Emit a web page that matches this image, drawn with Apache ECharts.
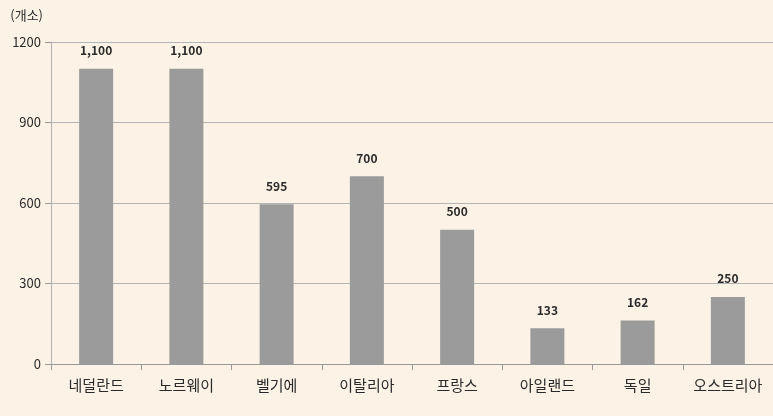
<!DOCTYPE html>
<html>
<head>
<meta charset="utf-8">
<script src="https://cdn.jsdelivr.net/npm/echarts@6/dist/echarts.min.js"></script>
<style>
  html, body { margin: 0; padding: 0; background: #fcf3e6; }
  #chart { width: 773px; height: 416px; }
</style>
</head>
<body>
<div id="chart"></div>
<script>
// 국가별 개수
const categories = ['네덜란드', '노르웨이', '벨기에', '이탈리아', '프랑스', '아일랜드', '독일', '오스트리아'];
const values = [1100, 1100, 595, 700, 500, 133, 162, 250];
const yTicks = [0, 300, 600, 900, 1200];

const chart = echarts.init(document.getElementById('chart'), null, { renderer: 'canvas' });

const font = '"Noto Sans CJK KR", "Noto Sans", sans-serif';

chart.setOption({
  backgroundColor: '#fcf3e6',
  animation: false,
  grid: { left: 51, right: 0, top: 42, bottom: 52 },
  xAxis: {
    type: 'category',
    data: categories,
    axisLine: { lineStyle: { color: '#9a9a9a', width: 1 } },
    axisTick: { show: true, length: 6, lineStyle: { color: '#9a9a9a' } },
    axisLabel: { color: '#2a2a2a', fontSize: 15, fontFamily: font, margin: 14 }
  },
  yAxis: {
    type: 'value',
    min: yTicks[0],
    max: yTicks[yTicks.length - 1],
    interval: 300,
    name: '(개소)',
    nameLocation: 'end',
    nameGap: 20,
    nameTextStyle: { color: '#2a2a2a', fontSize: 13, fontFamily: font, align: 'right', padding: [0, 8, 0, 0] },
    axisLine: { show: true, lineStyle: { color: '#b0b0b0' } },
    axisTick: { show: true, length: 6, inside: false, lineStyle: { color: '#9a9a9a' } },
    axisLabel: { color: '#2a2a2a', fontSize: 13, fontFamily: font, margin: 10, formatter: v => String(v) },
    splitLine: { lineStyle: { color: '#b4b4b4', width: 1 } }
  },
  series: [{
    type: 'bar',
    data: values,
    barWidth: 34,
    itemStyle: { color: '#9a9b9a' },
    label: {
      show: true,
      position: 'top',
      distance: 12,
      color: '#2a2a2a',
      fontSize: 12,
      fontWeight: 'bold',
      fontFamily: font,
      formatter: p => p.value.toLocaleString('en-US')
    }
  }]
});
</script>
</body>
</html>
